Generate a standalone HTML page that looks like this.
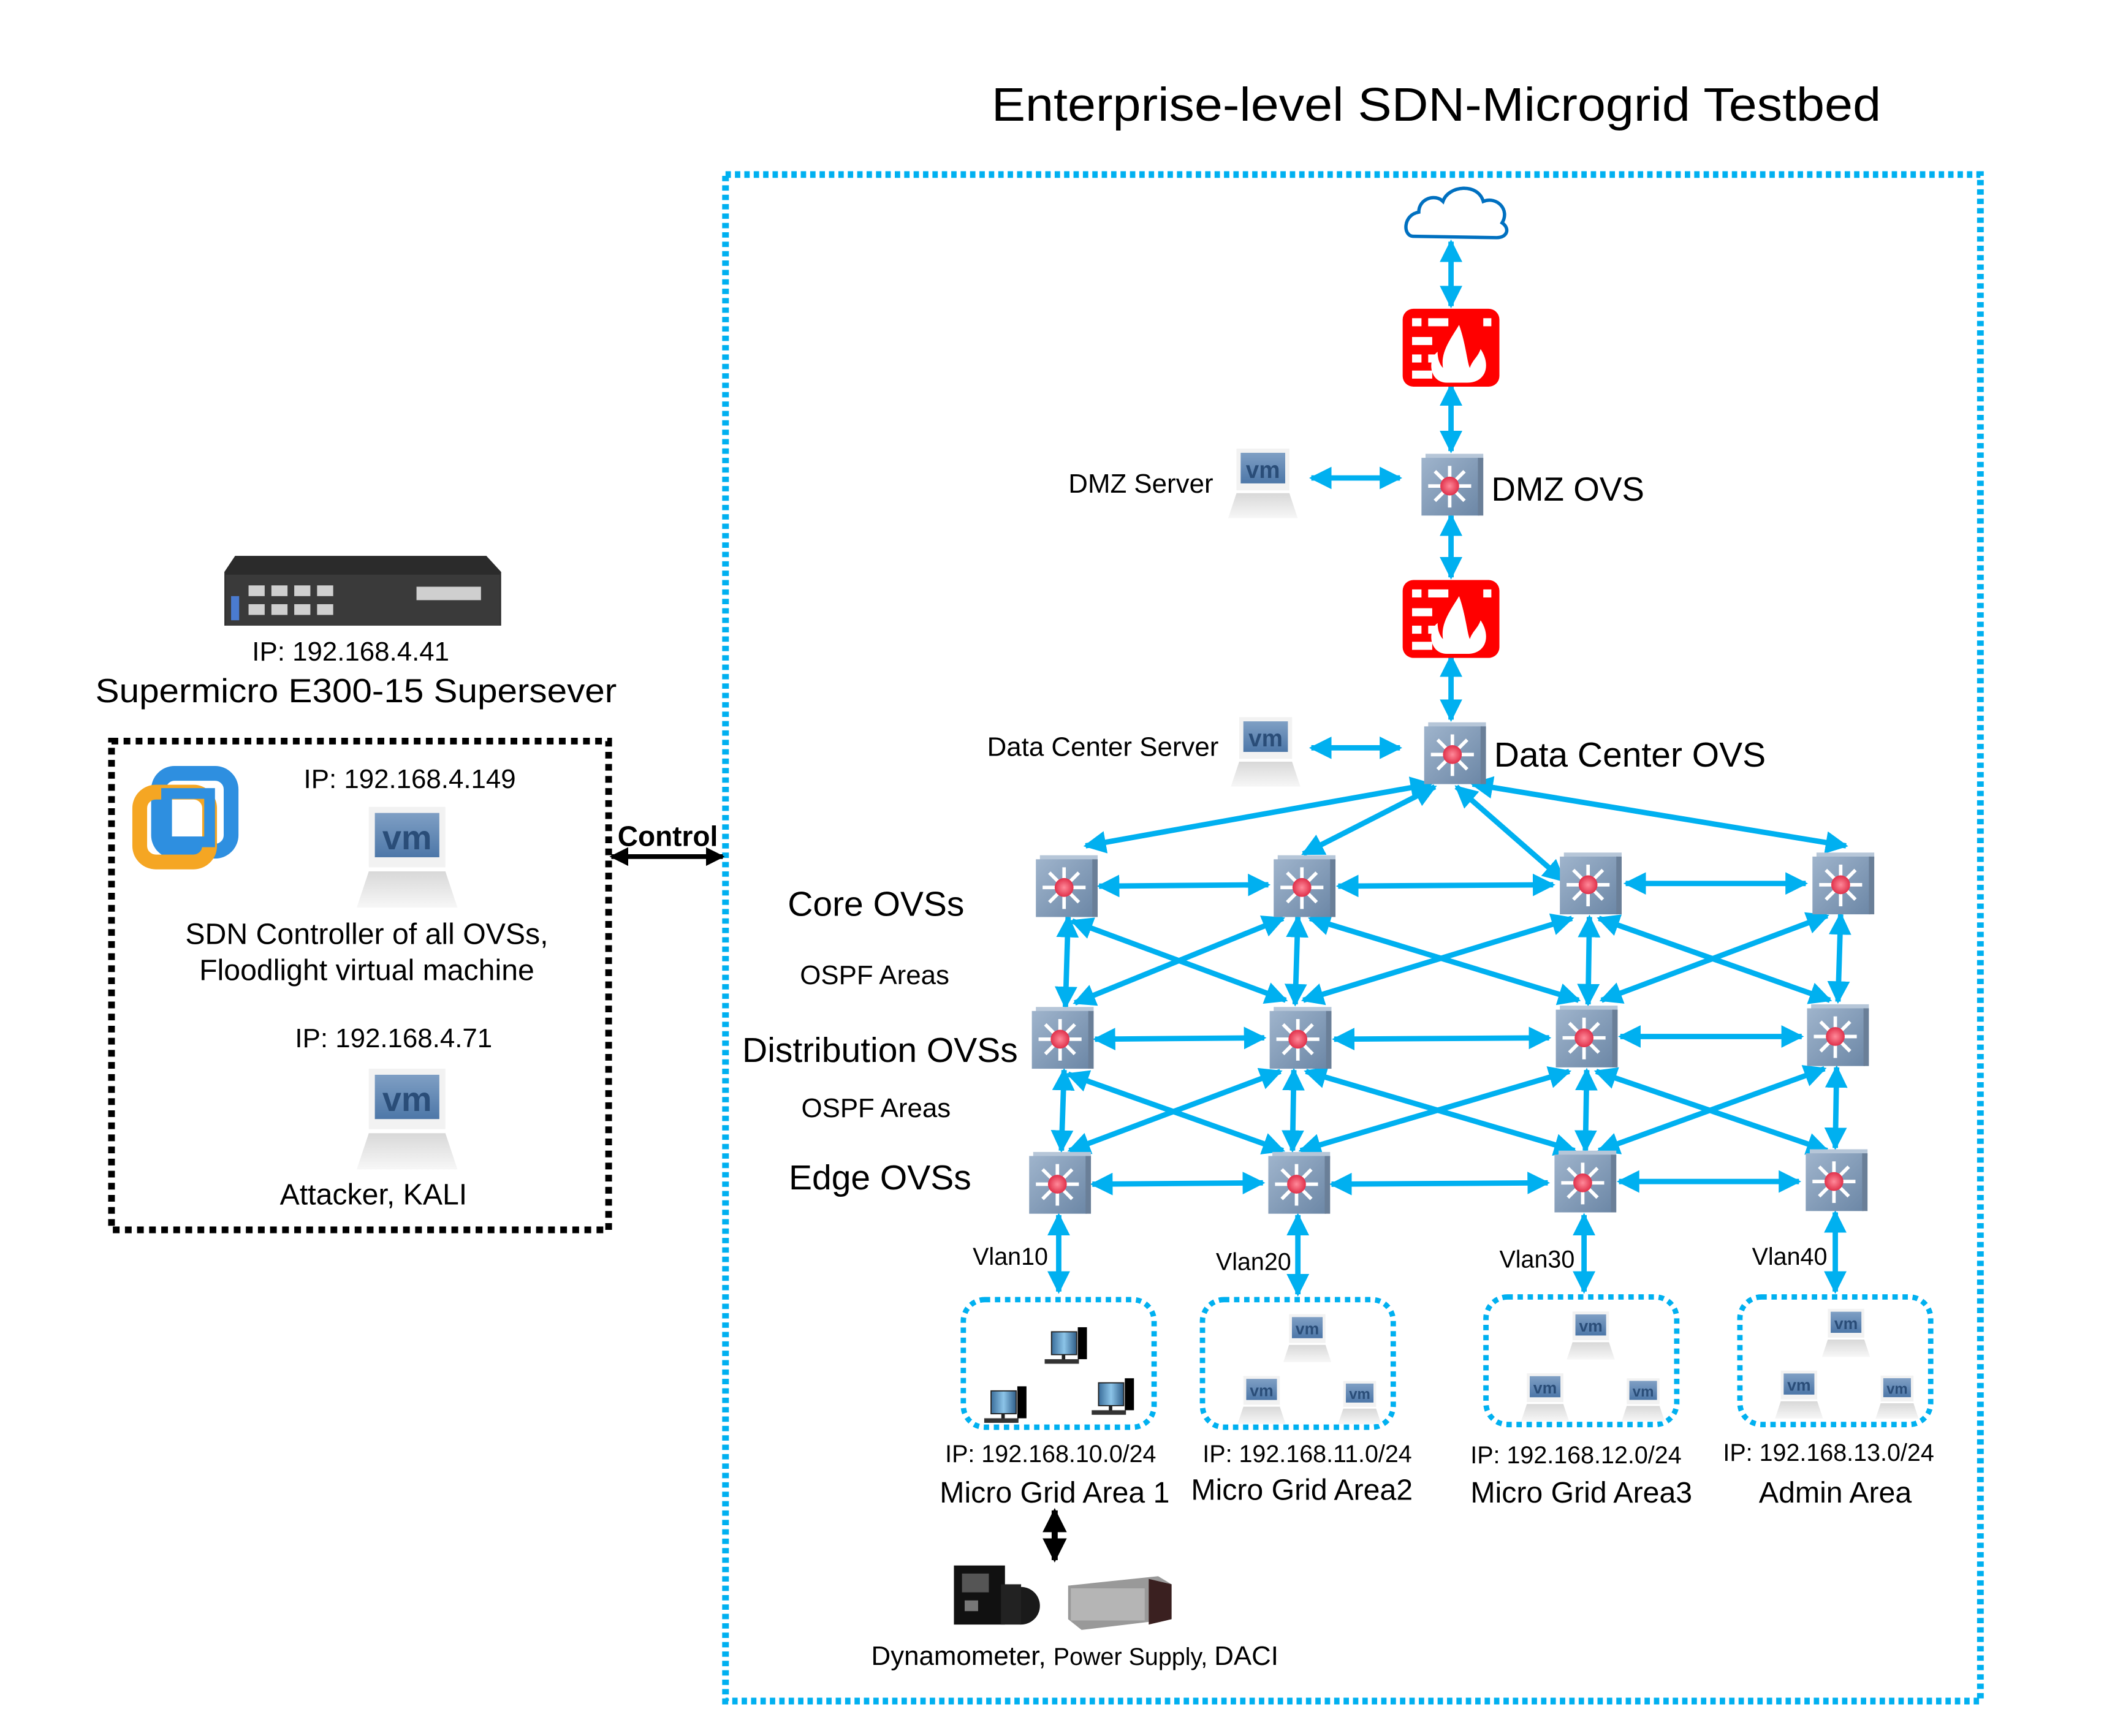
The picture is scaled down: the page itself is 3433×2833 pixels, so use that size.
<!DOCTYPE html>
<html><head><meta charset="utf-8"><style>
html,body{margin:0;padding:0;background:#fff}
svg{display:block}
text{font-family:"Liberation Sans",sans-serif;fill:#000}
</style></head><body>
<svg width="3433" height="2833" viewBox="0 0 1566 1293" preserveAspectRatio="none" xmlns="http://www.w3.org/2000/svg">
<defs>
<marker id="ab" viewBox="0 0 10 10" refX="9" refY="5" markerWidth="4.2" markerHeight="4.2" orient="auto-start-reverse" markerUnits="strokeWidth"><path d="M0,0 L10,5 L0,10 z" fill="#00b0f0"/></marker>
<marker id="ak" viewBox="0 0 10 10" refX="9" refY="5" markerWidth="4" markerHeight="4" orient="auto-start-reverse" markerUnits="strokeWidth"><path d="M0,0 L10,5 L0,10 z" fill="#000"/></marker>
<linearGradient id="sw" x1="0" y1="0" x2="1" y2="1"><stop offset="0" stop-color="#9fb4cc"/><stop offset="1" stop-color="#6c87a6"/></linearGradient>
<radialGradient id="rd"><stop offset="0" stop-color="#ff8a9a"/><stop offset="1" stop-color="#e0304a"/></radialGradient>
<linearGradient id="scr" x1="0" y1="0" x2="0" y2="1"><stop offset="0" stop-color="#7f9fc4"/><stop offset="1" stop-color="#4d77a8"/></linearGradient>
<linearGradient id="base" x1="0" y1="0" x2="0" y2="1"><stop offset="0" stop-color="#d8d8d8"/><stop offset="1" stop-color="#f7f7f7"/></linearGradient>
<linearGradient id="pcs" x1="0" y1="0" x2="1" y2="0"><stop offset="0" stop-color="#3a6d9a"/><stop offset=".5" stop-color="#8cc4e8"/><stop offset="1" stop-color="#2e5d88"/></linearGradient>
<symbol id="switch" viewBox="0 0 46 46" overflow="visible">
<rect x="3" y="0" width="43" height="5" fill="#b6c6d8"/>
<rect x="0" y="3" width="43" height="43" fill="url(#sw)"/>
<rect x="42" y="3" width="4" height="43" fill="#6a7f98"/>
<g stroke="#fff" stroke-width="2.6">
<line x1="21" y1="9" x2="21" y2="40"/><line x1="5" y1="24" x2="37" y2="24"/>
<line x1="10" y1="13" x2="32" y2="35"/><line x1="32" y1="13" x2="10" y2="35"/></g>
<circle cx="21" cy="24" r="7" fill="url(#rd)"/>
</symbol>
<symbol id="vm" viewBox="0 0 50 56" overflow="visible">
<rect x="6" y="4" width="38" height="30" fill="#f2f2f2"/>
<rect x="9" y="7" width="32" height="22" fill="url(#scr)"/>
<text x="25" y="25" text-anchor="middle" font-size="17" font-weight="bold" style="fill:#2a4d78" font-family="Liberation Sans">vm</text>
<path d="M6,36 L44,36 L50,54 L0,54 z" fill="url(#base)"/>
</symbol>
<symbol id="pc" viewBox="0 0 40 34" overflow="visible">
<rect x="9" y="4" width="22" height="20" fill="url(#pcs)" stroke="#222" stroke-width="1"/>
<rect x="32" y="0" width="8" height="28" fill="#000"/>
<rect x="18" y="24" width="3" height="5" fill="#222"/>
<rect x="3" y="28" width="30" height="4" fill="#333"/>
</symbol>
<symbol id="fw" viewBox="0 0 72 58" overflow="visible">
<rect x="0" y="0" width="72" height="58" rx="8" fill="#ff0000"/>
<g fill="#fff"><rect x="7" y="7" width="7" height="6"/><rect x="19" y="7" width="15" height="6"/><rect x="60" y="7" width="6" height="6"/>
<rect x="7" y="21" width="15" height="6"/><rect x="7" y="34" width="7" height="6"/><rect x="19" y="34" width="6" height="6"/><rect x="7" y="46" width="15" height="6"/>
<path d="M33,55 C20,55 18,38 26,32 C26,38 28,42 30,44 C28,32 36,22 42,12 C47,26 48,40 50,44 C52,38 56,36 58,30 C66,42 62,55 48,55 z"/></g>
</symbol>
</defs>

<text x="1069" y="90" text-anchor="middle" font-size="35" textLength="662" lengthAdjust="spacingAndGlyphs">Enterprise-level SDN-Microgrid Testbed</text>

<rect x="540" y="130" width="934" height="1137" fill="none" stroke="#00b0f0" stroke-width="5" stroke-dasharray="4 3"/>

<path d="M1052,176 C1044,176 1044,160 1056,158 C1056,148 1068,144 1074,150 C1078,138 1100,136 1104,150 C1114,146 1124,156 1118,166 C1124,170 1122,177 1114,177 z" fill="#fff" stroke="#0070c0" stroke-width="2.5"/>

<g stroke="#00b0f0" stroke-width="4" fill="none" marker-start="url(#ab)" marker-end="url(#ab)">
<line x1="1080" y1="180" x2="1080" y2="228"/>
<line x1="1080" y1="287" x2="1080" y2="336"/>
<line x1="1080" y1="384" x2="1080" y2="430"/>
<line x1="1080" y1="489" x2="1080" y2="536"/>
<line x1="976" y1="356" x2="1042" y2="356"/>
<line x1="976" y1="557" x2="1042" y2="557"/>
<line x1="1065" y1="584" x2="808" y2="630"/>
<line x1="1068" y1="586" x2="970" y2="636"/>
<line x1="1084" y1="586" x2="1164" y2="656"/>
<line x1="1096" y1="584" x2="1374" y2="630"/>
<line x1="818" y1="660" x2="944" y2="659"/>
<line x1="996" y1="660" x2="1156" y2="659"/>
<line x1="1210" y1="658" x2="1344" y2="658"/>
<line x1="815" y1="774" x2="941" y2="773"/>
<line x1="993" y1="774" x2="1153" y2="773"/>
<line x1="1206" y1="772" x2="1341" y2="772"/>
<line x1="813" y1="882" x2="940" y2="881"/>
<line x1="991" y1="882" x2="1152" y2="881"/>
<line x1="1205" y1="880" x2="1339" y2="880"/>
<line x1="795" y1="683" x2="793" y2="750"/>
<line x1="966" y1="683" x2="964" y2="748"/>
<line x1="1183" y1="683" x2="1182" y2="748"/>
<line x1="1370" y1="681" x2="1368" y2="746"/>
<line x1="798" y1="686" x2="957" y2="745"/>
<line x1="955" y1="684" x2="800" y2="747"/>
<line x1="975" y1="684" x2="1175" y2="745"/>
<line x1="1170" y1="684" x2="970" y2="745"/>
<line x1="1190" y1="684" x2="1362" y2="745"/>
<line x1="1360" y1="682" x2="1192" y2="745"/>
<line x1="792" y1="797" x2="790" y2="857"/>
<line x1="963" y1="797" x2="962" y2="857"/>
<line x1="1181" y1="797" x2="1180" y2="857"/>
<line x1="1367" y1="795" x2="1366" y2="855"/>
<line x1="795" y1="800" x2="955" y2="857"/>
<line x1="953" y1="798" x2="796" y2="857"/>
<line x1="972" y1="798" x2="1172" y2="857"/>
<line x1="1168" y1="798" x2="968" y2="857"/>
<line x1="1188" y1="798" x2="1360" y2="857"/>
<line x1="1358" y1="796" x2="1190" y2="857"/>
<line x1="788" y1="905" x2="788" y2="962"/>
<line x1="966" y1="905" x2="966" y2="964"/>
<line x1="1179" y1="905" x2="1179" y2="962"/>
<line x1="1366" y1="903" x2="1366" y2="962"/>
</g>

<use href="#fw" x="1044" y="230" width="72" height="58"/>
<use href="#fw" x="1044" y="432" width="72" height="58"/>

<use href="#switch" x="1058" y="338" width="46" height="46"/>
<use href="#switch" x="1060" y="538" width="46" height="46"/>
<use href="#switch" x="771" y="637" width="46" height="46"/>
<use href="#switch" x="948" y="637" width="46" height="46"/>
<use href="#switch" x="1161" y="635" width="46" height="46"/>
<use href="#switch" x="1349" y="635" width="46" height="46"/>
<use href="#switch" x="768" y="750" width="46" height="46"/>
<use href="#switch" x="945" y="750" width="46" height="46"/>
<use href="#switch" x="1158" y="749" width="46" height="46"/>
<use href="#switch" x="1345" y="748" width="46" height="46"/>
<use href="#switch" x="766" y="858" width="46" height="46"/>
<use href="#switch" x="944" y="858" width="46" height="46"/>
<use href="#switch" x="1157" y="857" width="46" height="46"/>
<use href="#switch" x="1344" y="856" width="46" height="46"/>

<use href="#vm" x="914" y="330" width="52" height="58"/>
<use href="#vm" x="916" y="530" width="52" height="58"/>

<text x="1110" y="373" font-size="25">DMZ OVS</text>
<text x="903" y="367" text-anchor="end" font-size="20">DMZ Server</text>
<text x="1112" y="571" font-size="26">Data Center OVS</text>
<text x="907" y="563" text-anchor="end" font-size="20">Data Center Server</text>

<text x="652" y="682" text-anchor="middle" font-size="26">Core OVSs</text>
<text x="651" y="733" text-anchor="middle" font-size="20">OSPF Areas</text>
<text x="655" y="791" text-anchor="middle" font-size="26">Distribution OVSs</text>
<text x="652" y="832" text-anchor="middle" font-size="20">OSPF Areas</text>
<text x="655" y="886" text-anchor="middle" font-size="26">Edge OVSs</text>

<text x="752" y="942" text-anchor="middle" font-size="18">Vlan10</text>
<text x="933" y="946" text-anchor="middle" font-size="18">Vlan20</text>
<text x="1144" y="944" text-anchor="middle" font-size="18">Vlan30</text>
<text x="1332" y="942" text-anchor="middle" font-size="18">Vlan40</text>

<g fill="none" stroke="#00b0f0" stroke-width="4" stroke-dasharray="4 3.5">
<rect x="717" y="968" width="142" height="95" rx="16"/>
<rect x="895" y="968" width="142" height="95" rx="16"/>
<rect x="1106" y="966" width="142" height="95" rx="16"/>
<rect x="1295" y="966" width="142" height="95" rx="16"/>
</g>
<use href="#pc" x="775" y="988" width="34" height="30"/>
<use href="#pc" x="730" y="1032" width="34" height="30"/>
<use href="#pc" x="810" y="1026" width="34" height="30"/>
<use href="#vm" x="955" y="976" width="36" height="40"/>
<use href="#vm" x="921" y="1022" width="36" height="40"/>
<use href="#vm" x="995" y="1026" width="34" height="36"/>
<use href="#vm" x="1166" y="974" width="36" height="40"/>
<use href="#vm" x="1132" y="1020" width="36" height="40"/>
<use href="#vm" x="1206" y="1024" width="34" height="36"/>
<use href="#vm" x="1356" y="972" width="36" height="40"/>
<use href="#vm" x="1321" y="1018" width="36" height="40"/>
<use href="#vm" x="1395" y="1022" width="34" height="36"/>

<g font-size="18" text-anchor="middle">
<text x="782" y="1089">IP: 192.168.10.0/24</text>
<text x="973" y="1089">IP: 192.168.11.0/24</text>
<text x="1173" y="1090">IP: 192.168.12.0/24</text>
<text x="1361" y="1088">IP: 192.168.13.0/24</text>
</g>
<g font-size="22" text-anchor="middle">
<text x="785" y="1119">Micro Grid Area 1</text>
<text x="969" y="1117">Micro Grid Area2</text>
<text x="1177" y="1119">Micro Grid Area3</text>
<text x="1366" y="1119">Admin Area</text>
</g>

<line x1="785" y1="1125" x2="785" y2="1162" stroke="#000" stroke-width="4.5" marker-start="url(#ak)" marker-end="url(#ak)"/>
<g>
<rect x="710" y="1166" width="38" height="44" fill="#111"/>
<rect x="716" y="1172" width="20" height="14" fill="#555"/>
<circle cx="760" cy="1196" r="14" fill="#1a1a1a"/>
<rect x="745" y="1180" width="15" height="30" fill="#222"/>
<rect x="718" y="1192" width="10" height="8" fill="#777"/>
</g>
<g>
<path d="M795,1181 L862,1174 L872,1180 L872,1206 L805,1214 L795,1206 z" fill="#999"/>
<path d="M855,1176 L872,1180 L872,1206 L855,1210 z" fill="#3a2020"/>
<rect x="797" y="1183" width="55" height="24" fill="#b5b5b5"/>
</g>
<text x="800" y="1240" text-anchor="middle"><tspan font-size="20">Dynamometer, </tspan><tspan font-size="18">Power Supply, </tspan><tspan font-size="20">DACI</tspan></text>

<g>
<path d="M175,414 L362,414 L373,426 L373,466 L167,466 L167,426 z" fill="#2b2b2b"/>
<rect x="168" y="428" width="204" height="38" fill="#3a3a3a"/>
<g fill="#cfcfcf">
<rect x="185" y="436" width="12" height="8"/><rect x="202" y="436" width="12" height="8"/><rect x="219" y="436" width="12" height="8"/><rect x="236" y="436" width="12" height="8"/>
<rect x="185" y="450" width="12" height="8"/><rect x="202" y="450" width="12" height="8"/><rect x="219" y="450" width="12" height="8"/><rect x="236" y="450" width="12" height="8"/>
<rect x="310" y="437" width="48" height="10"/></g>
<rect x="172" y="444" width="6" height="18" fill="#4a7bd0"/>
</g>
<text x="261" y="492" text-anchor="middle" font-size="20">IP: 192.168.4.41</text>
<text x="265" y="523" text-anchor="middle" font-size="25" textLength="388" lengthAdjust="spacingAndGlyphs">Supermicro E300-15 Supersever</text>

<rect x="83" y="552" width="370" height="364" fill="none" stroke="#000" stroke-width="5" stroke-dasharray="5 4"/>

<rect x="118" y="576" width="54" height="58" rx="12" fill="none" stroke="#2e8fe0" stroke-width="11"/>
<rect x="104" y="590" width="52" height="52" rx="12" fill="none" stroke="#f5a623" stroke-width="11"/>
<rect x="124" y="591" width="32" height="36" fill="none" stroke="#2e8fe0" stroke-width="8"/>

<text x="305" y="587" text-anchor="middle" font-size="20">IP: 192.168.4.149</text>
<use href="#vm" x="265" y="595" width="76" height="84"/>
<text x="273" y="703" text-anchor="middle" font-size="22">SDN Controller of all OVSs,</text>
<text x="273" y="730" text-anchor="middle" font-size="22">Floodlight virtual machine</text>
<text x="293" y="780" text-anchor="middle" font-size="20">IP: 192.168.4.71</text>
<use href="#vm" x="265" y="790" width="76" height="84"/>
<text x="278" y="897" text-anchor="middle" font-size="22">Attacker, KALI</text>

<text x="497" y="630" text-anchor="middle" font-size="21" font-weight="bold">Control</text>
<line x1="455" y1="638" x2="538" y2="638" stroke="#000" stroke-width="3.5" marker-start="url(#ak)" marker-end="url(#ak)"/>
</svg>
</body></html>
